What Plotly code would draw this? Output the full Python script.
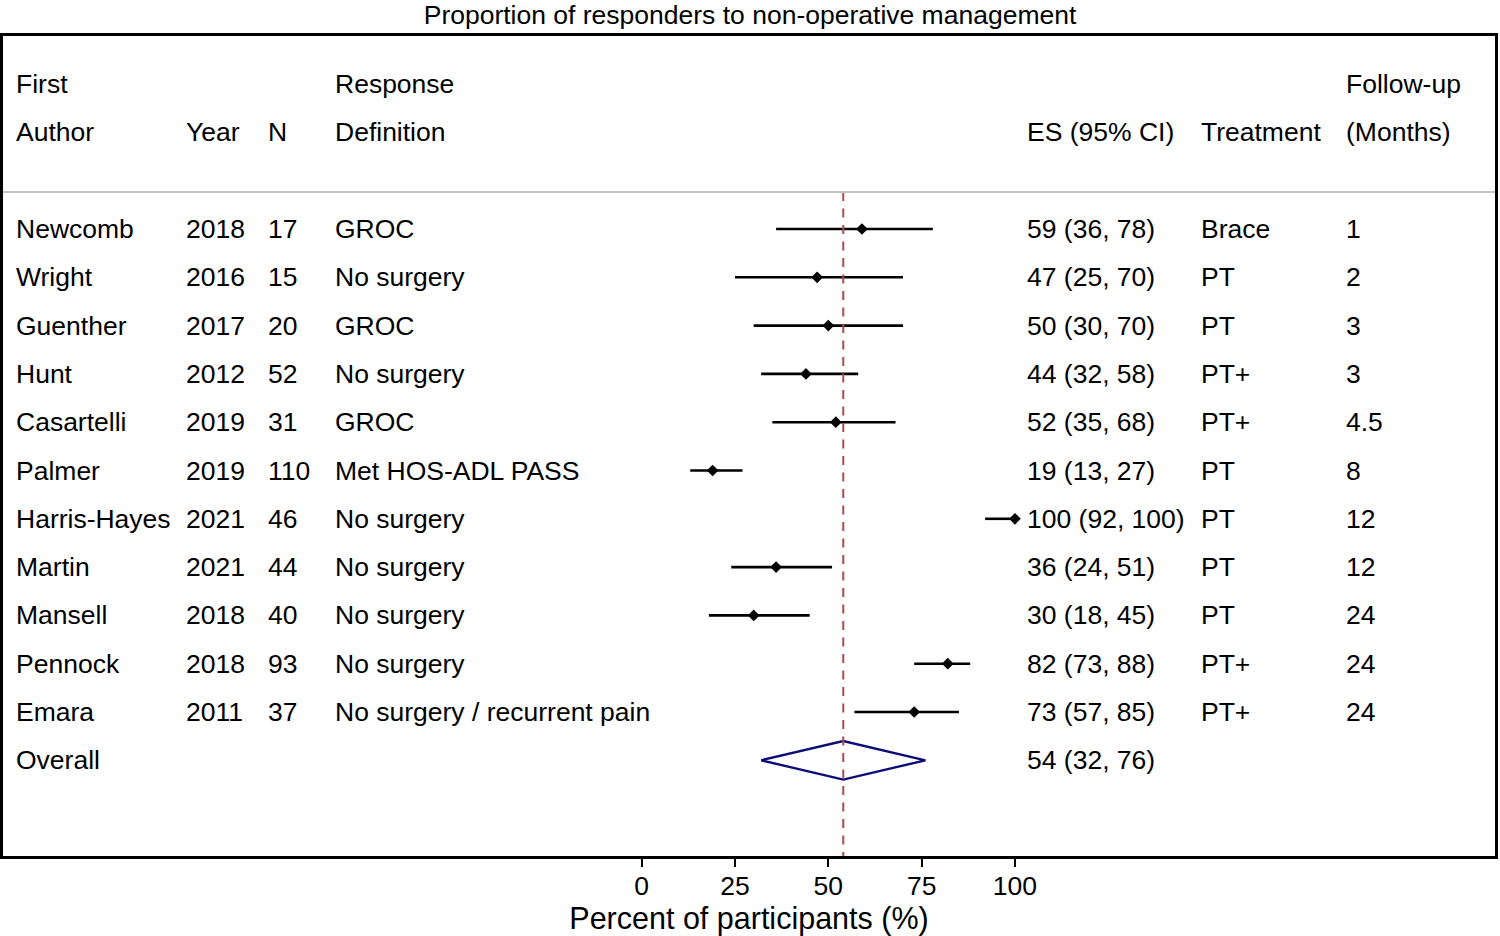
"""
Forest plot: proportion of responders to non-operative management.
"""

import plotly.graph_objects as go

# ---- data ----
authors = ["Newcomb", "Wright", "Guenther", "Hunt", "Casartelli", "Palmer",
           "Harris-Hayes", "Martin", "Mansell", "Pennock", "Emara"]
years = [2018, 2016, 2017, 2012, 2019, 2019, 2021, 2021, 2018, 2018, 2011]
n_participants = [17, 15, 20, 52, 31, 110, 46, 44, 40, 93, 37]
definitions = ["GROC", "No surgery", "GROC", "No surgery", "GROC",
               "Met HOS-ADL PASS", "No surgery", "No surgery", "No surgery",
               "No surgery", "No surgery / recurrent pain"]
es = [59, 47, 50, 44, 52, 19, 100, 36, 30, 82, 73]
ci_low = [36, 25, 30, 32, 35, 13, 92, 24, 18, 73, 57]
ci_high = [78, 70, 70, 58, 68, 27, 100, 51, 45, 88, 85]
treatments = ["Brace", "PT", "PT", "PT+", "PT+", "PT", "PT", "PT", "PT",
              "PT+", "PT+"]
followup = ["1", "2", "3", "3", "4.5", "8", "12", "12", "24", "24", "24"]
overall_es, overall_low, overall_high = 54, 32, 76

x_ticks = [0, 25, 50, 75, 100]

# ---- layout calibration (pixels) ----
W, H = 1500, 936
M_L, M_R, M_T, M_B = 3, 2, 36, 80
X0_PX, PX_PER_UNIT = 643, 3.74          # where 0 sits, px per percent
ROW0_PX, ROW_STEP = 229, 48.3           # first study row, row spacing

x_range = [(M_L - X0_PX) / PX_PER_UNIT, (W - M_R - X0_PX) / PX_PER_UNIT]
y_range = [(H - M_B - ROW0_PX) / ROW_STEP, (M_T - ROW0_PX) / ROW_STEP]


def px_to_x(px):
    return (px - X0_PX) / PX_PER_UNIT


def px_to_row(py):
    return (py - ROW0_PX) / ROW_STEP


FONT = "Liberation Sans, Arial, sans-serif"
FS = 26.5
col_px = {"author": 14, "year": 184, "n": 267, "def": 334,
          "es": 1027, "treat": 1201, "fu": 1347}

fig = go.Figure()

rows = list(range(len(authors)))
overall_row = len(authors)

# confidence intervals
ci_x, ci_y = [], []
for r, lo, hi in zip(rows, ci_low, ci_high):
    ci_x += [lo, hi, None]
    ci_y += [r, r, None]
fig.add_trace(go.Scatter(x=ci_x, y=ci_y, mode="lines",
                         line=dict(color="black", width=2.6),
                         hoverinfo="skip", showlegend=False))

# point estimates
fig.add_trace(go.Scatter(x=es, y=rows, mode="markers",
                         marker=dict(symbol="diamond", size=9, color="black"),
                         showlegend=False))

# overall diamond
half_h = 0.4
fig.add_trace(go.Scatter(
    x=[overall_low, overall_es, overall_high, overall_es, overall_low],
    y=[overall_row, overall_row - half_h, overall_row, overall_row + half_h,
       overall_row],
    mode="lines", line=dict(color="#0c0c78", width=2.4),
    hoverinfo="skip", showlegend=False))

# reference line at overall estimate
sep_row = px_to_row(192)
fig.add_trace(go.Scatter(x=[overall_es, overall_es], y=[sep_row, y_range[0]],
                         mode="lines",
                         line=dict(color="#a84c56", width=2, dash="9px,7.5px"),
                         hoverinfo="skip", showlegend=False))

# header separator
fig.add_shape(type="line", xref="paper", yref="y", x0=0, x1=1,
              y0=sep_row, y1=sep_row, line=dict(color="#c4c4c4", width=2))


def add_text(col, row, text):
    fig.add_annotation(x=px_to_x(col_px[col]), y=row, text=text,
                       xref="x", yref="y", xanchor="left", yanchor="middle",
                       showarrow=False, font=dict(family=FONT, size=FS,
                                                  color="black"))


# header
h1, h2 = px_to_row(84), px_to_row(132)
add_text("author", h1, "First")
add_text("author", h2, "Author")
add_text("year", h2, "Year")
add_text("n", h2, "N")
add_text("def", h1, "Response")
add_text("def", h2, "Definition")
add_text("es", h2, "ES (95% CI)")
add_text("treat", h2, "Treatment")
add_text("fu", h1, "Follow-up")
add_text("fu", h2, "(Months)")

# study rows
for r in rows:
    add_text("author", r, authors[r])
    add_text("year", r, str(years[r]))
    add_text("n", r, str(n_participants[r]))
    add_text("def", r, definitions[r])
    add_text("es", r, f"{es[r]} ({ci_low[r]}, {ci_high[r]})")
    add_text("treat", r, treatments[r])
    add_text("fu", r, followup[r])

add_text("author", overall_row, "Overall")
add_text("es", overall_row,
         f"{overall_es} ({overall_low}, {overall_high})")

fig.update_xaxes(range=x_range, tickvals=x_ticks, ticks="outside", ticklen=8,
                 tickwidth=2, tickcolor="black", showgrid=False,
                 zeroline=False, showline=True, linewidth=3,
                 linecolor="black", mirror=True, ticklabelstandoff=-4,
                 tickfont=dict(family=FONT, size=FS, color="black"),
                 title=dict(text="Percent of participants (%)", standoff=2,
                            font=dict(family=FONT, size=30.5,
                                      color="black")))
fig.update_yaxes(range=y_range, showticklabels=False, showgrid=False,
                 zeroline=False, showline=True, linewidth=3,
                 linecolor="black", mirror=True)

fig.update_layout(
    width=W, height=H,
    margin=dict(l=M_L, r=M_R, t=M_T, b=M_B),
    paper_bgcolor="white", plot_bgcolor="white",
    title=dict(text="Proportion of responders to non-operative management",
               x=0.5, xanchor="center", y=1 - 15 / H, yanchor="middle",
               font=dict(family=FONT, size=FS, color="black")),
    showlegend=False,
)

# drop the browser's default 8px body margin so the figure sits at (0, 0)
fig.write_html("out.html", config={"displayModeBar": False},
               post_script="document.body.style.margin = '0';")
